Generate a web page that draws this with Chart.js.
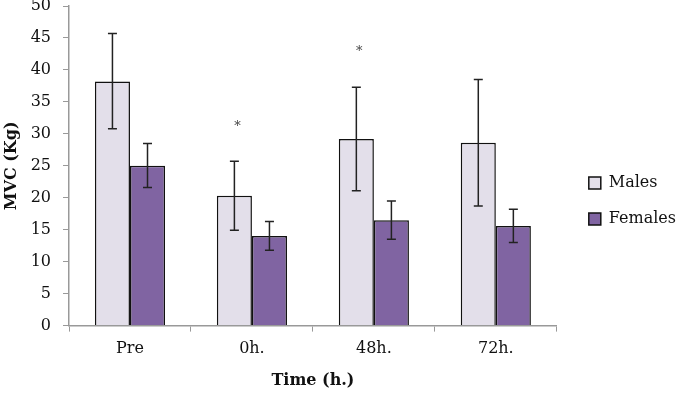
<!DOCTYPE html>
<html>
<head>
<meta charset="utf-8">
<script src="https://cdn.jsdelivr.net/npm/chart.js@4"></script>
<style>
  html, body { margin: 0; padding: 0; background: #fff; }
  #wrap { width: 684px; height: 402px; }
</style>
</head>
<body>
<div id="wrap"><canvas id="myChart" width="684" height="402"></canvas></div>
<script>
var categorias = ['Pre', '0h.', '48h.', '72h.'];

var machos = [38.2, 20.3, 29.2, 28.6];
var machosBaixo = [30.8, 14.9, 21.1, 18.7];
var machosAlto = [45.7, 25.7, 37.3, 38.5];

var femeas = [25.0, 14.0, 16.5, 15.6];
var femeasBaixo = [21.6, 11.8, 13.5, 13.0];
var femeasAlto = [28.5, 16.3, 19.5, 18.2];

// diferenca significativa (sobre os machos)
var signif = ['', '*', '*', ''];

var fonte = "'DejaVu Serif', serif";

const barrasErro = {
  id: 'barrasErro',
  afterLayout(chart) {
    // empurra a legenda um pouco para a direita e para baixo
    if (chart.legend) {
      chart.legend.left += 12;
      chart.legend.right += 12;
      chart.legend.top += 4;
      chart.legend.bottom += 4;
    }
  },
  afterDatasetsDraw(chart) {
    const ctx = chart.ctx;
    const y = chart.scales.y;
    const faixas = [[machosBaixo, machosAlto], [femeasBaixo, femeasAlto]];
    ctx.save();
    ctx.strokeStyle = '#222';
    ctx.lineWidth = 1.5;
    for (var d = 0; d < 2; d++) {
      var meta = chart.getDatasetMeta(d);
      meta.data.forEach(function (bar, i) {
        var x = bar.x;
        var y1 = y.getPixelForValue(faixas[d][0][i]);
        var y2 = y.getPixelForValue(faixas[d][1][i]);
        ctx.beginPath();
        ctx.moveTo(x, y1); ctx.lineTo(x, y2);
        ctx.moveTo(x - 4.5, y1); ctx.lineTo(x + 4.5, y1);
        ctx.moveTo(x - 4.5, y2); ctx.lineTo(x + 4.5, y2);
        ctx.stroke();
      });
    }
    // asteriscos
    ctx.fillStyle = '#444';
    ctx.font = "13px " + fonte;
    ctx.textAlign = 'center';
    ctx.textBaseline = 'middle';
    var metaM = chart.getDatasetMeta(0);
    signif.forEach(function (s, i) {
      if (!s) return;
      var bar = metaM.data[i];
      ctx.fillText(s, bar.x + 3, y.getPixelForValue(machosAlto[i] + 5.5));
    });
    ctx.restore();
  }
};

const data = {
  labels: categorias,
  datasets: [{
    label: 'Males',
    data: machos,
    backgroundColor: '#e3dfea',
    borderColor: '#111',
    borderWidth: 1.5,
    borderSkipped: 'bottom'
  }, {
    label: 'Females',
    data: femeas,
    backgroundColor: '#8064a2',
    borderColor: '#111',
    borderWidth: 1.5,
    borderSkipped: 'bottom'
  }]
};

const config = {
  type: 'bar',
  data: data,
  plugins: [barrasErro],
  options: {
    responsive: false,
    animation: false,
    layout: { padding: { top: 0, right: 10, left: 0, bottom: 8 } },
    datasets: {
      bar: { categoryPercentage: 0.575, barPercentage: 1.0 }
    },
    plugins: {
      legend: {
        position: 'right',
        labels: {
          boxWidth: 12,
          boxHeight: 12,
          color: '#111',
          padding: 20,
          font: { family: fonte, size: 16 }
        }
      },
      tooltip: { enabled: false }
    },
    scales: {
      y: {
        min: 0,
        max: 50,
        ticks: { stepSize: 5, color: '#111', padding: 12, font: { family: fonte, size: 16 } },
        grid: { drawOnChartArea: false, color: '#999', tickLength: 6 },
        border: { color: '#999', width: 1.5 },
        title: {
          display: true,
          text: 'MVC (Kg)',
          color: '#111',
          font: { family: fonte, size: 16, weight: 'bold' },
          padding: { top: 2, bottom: 6 }
        },
        afterFit: function (scale) {
          scale.paddingTop = 6;
          scale.width = 69;
        }
      },
      x: {
        ticks: { color: '#111', padding: 8, font: { family: fonte, size: 16 } },
        grid: { drawOnChartArea: false, offset: true, color: '#999', tickLength: 6 },
        border: { color: '#999', width: 1.5 },
        title: {
          display: true,
          text: 'Time (h.)',
          color: '#111',
          font: { family: fonte, size: 16, weight: 'bold' },
          padding: { top: 4 }
        }
      }
    }
  }
};

const myChart = new Chart(document.getElementById('myChart'), config);
</script>
</body>
</html>
